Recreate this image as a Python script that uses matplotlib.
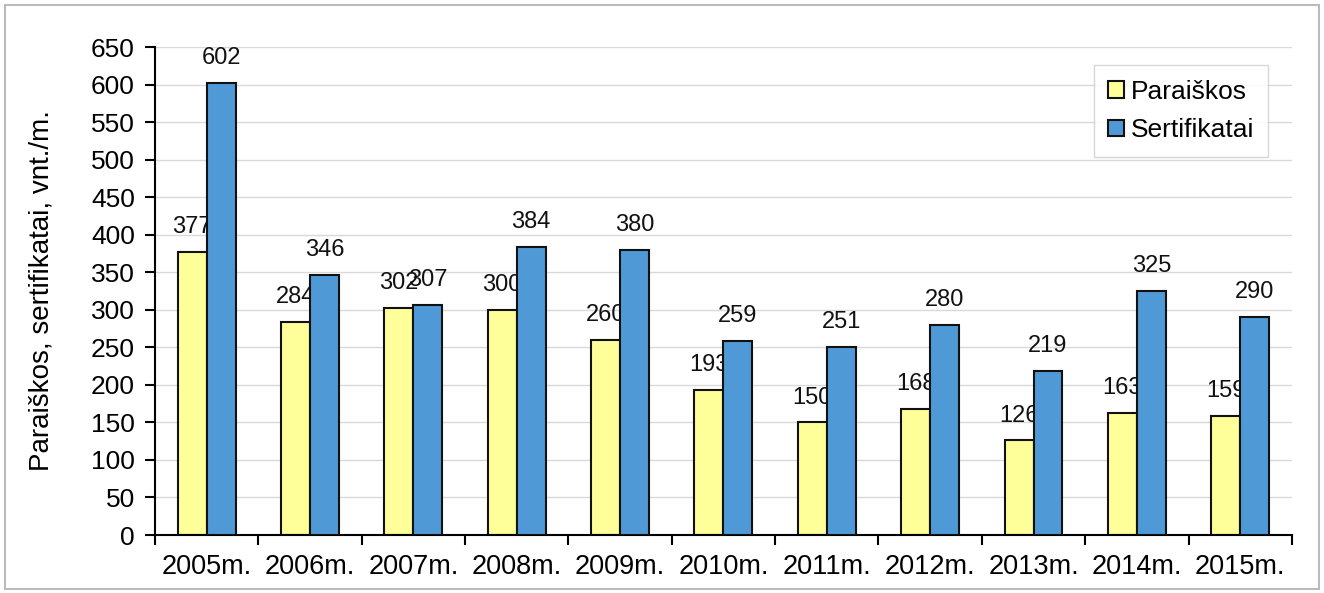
import matplotlib.pyplot as plt
import numpy as np
from matplotlib.patches import Rectangle

# ---------------------------------------------------------------- data
years = ['2005m.', '2006m.', '2007m.', '2008m.', '2009m.', '2010m.',
         '2011m.', '2012m.', '2013m.', '2014m.', '2015m.']
paraiskos = [377, 284, 302, 300, 260, 193, 150, 168, 126, 163, 159]
sertifikatai = [602, 346, 307, 384, 380, 259, 251, 280, 219, 325, 290]

YELLOW, BLUE, GRID = '#FFFF99', '#4F9AD6', '#D9D9D9'

plt.rcParams['font.family'] = ['Liberation Sans', 'DejaVu Sans']

fig = plt.figure(figsize=(13.24, 5.93), dpi=100)
fig.patch.set_facecolor('white')
ax = fig.add_axes([0.117, 0.0978, 0.8588, 0.8229])

x = np.arange(len(years))
w = 0.28
b1 = ax.bar(x - w / 2, paraiskos, w, color=YELLOW, edgecolor='#111111',
            linewidth=1.5, zorder=2, label='Paraiškos')
b2 = ax.bar(x + w / 2, sertifikatai, w, color=BLUE, edgecolor='#111111',
            linewidth=1.5, zorder=4, label='Sertifikatai')

# value labels; yellow ones sit under the blue bars like the original
for rect, v in zip(b1, paraiskos):
    ax.annotate(str(v), (rect.get_x() + rect.get_width() / 2, v),
                xytext=(0, 10), textcoords='offset points', ha='center',
                va='bottom', fontsize=17, color='#111111', zorder=3)
for rect, v in zip(b2, sertifikatai):
    ax.annotate(str(v), (rect.get_x() + rect.get_width() / 2, v),
                xytext=(0, 10), textcoords='offset points', ha='center',
                va='bottom', fontsize=17, color='#111111', zorder=5)

ax.set_xlim(-0.5, len(years) - 0.5)
ax.set_ylim(0, 650)
ax.set_yticks(np.arange(0, 651, 50))
ax.set_xticks(x)
ax.set_xticklabels(years, fontsize=19.5)
ax.set_xticks(np.arange(-0.5, len(years), 1), minor=True)
ax.tick_params(axis='x', which='major', length=0, pad=14)
ax.tick_params(axis='x', which='minor', length=7, width=1.5, direction='out')
ax.tick_params(axis='y', labelsize=19, length=7.5, width=1.5, direction='out',
               pad=7)
ax.grid(axis='y', color=GRID, linewidth=1, zorder=0)
ax.set_axisbelow(True)
for s in ('top', 'right'):
    ax.spines[s].set_visible(False)
for s in ('left', 'bottom'):
    ax.spines[s].set_linewidth(1.5)

ax.set_ylabel('Paraiškos, sertifikatai, vnt./m.', fontsize=20)
ax.yaxis.set_label_coords(-0.088, 0.5)

leg = ax.legend(loc='upper right', bbox_to_anchor=(0.958, 0.890),
                bbox_transform=fig.transFigure, fontsize=19, frameon=True,
                fancybox=False, edgecolor='#CCCCCC', handlelength=0.6,
                handleheight=0.6, handletextpad=0.25, borderpad=0.55,
                labelspacing=0.55, borderaxespad=0)
leg.get_frame().set_linewidth(1)

# outer chart frame
fig.patches.append(Rectangle((0.004, 0.006), 0.992, 0.986,
                             transform=fig.transFigure, facecolor='none',
                             edgecolor='#BBBBBB', linewidth=1.5))

fig.savefig('out.png', dpi=100, facecolor='white')
